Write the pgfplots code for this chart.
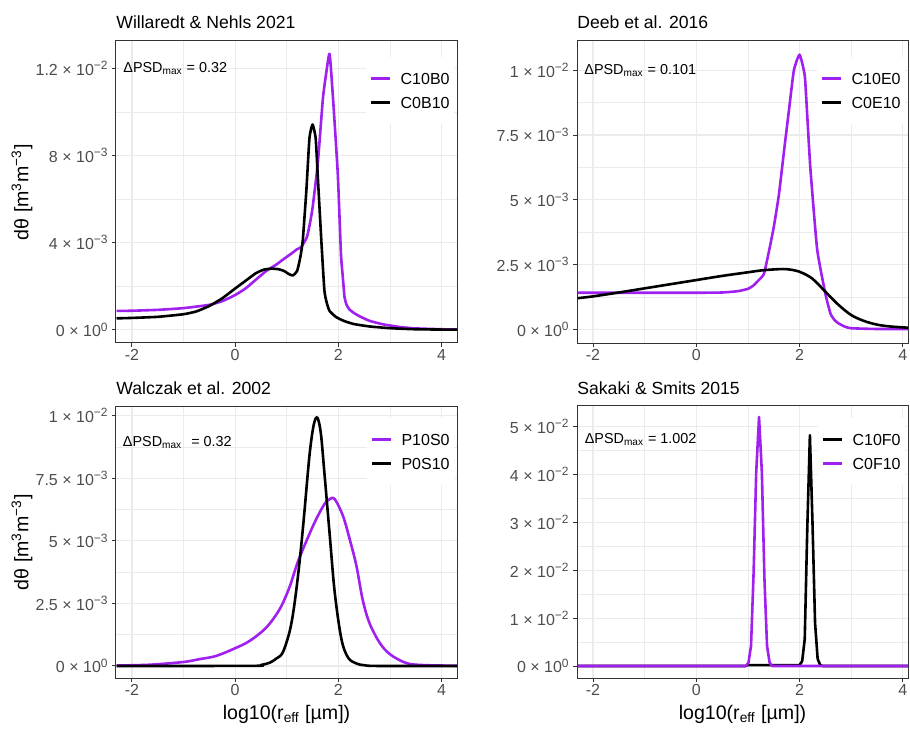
\documentclass[border=0pt]{standalone}
\usepackage{fontspec}
\setmainfont{Liberation Sans}
\usepackage{pgfplots}
\pgfplotsset{compat=1.18}
\definecolor{cpurple}{HTML}{A020F0}
\definecolor{gridgrey}{HTML}{EBEBEB}
\definecolor{framegrey}{HTML}{333333}
\definecolor{tickgrey}{HTML}{4D4D4D}

% 1 px of the 910x728 reference = 0.5pt
\pgfplotsset{
  ggpanel/.style={
    scale only axis,
    axis line style={framegrey, line width=0.5pt},
    tick style={framegrey, line width=0.5pt},
    major tick length=2pt, minor tick length=0pt,
    tick align=outside, xtick pos=bottom, ytick pos=left,
    grid=both,
    major grid style={gridgrey, line width=0.55pt},
    minor grid style={gridgrey, line width=0.3pt},
    xtick={-2,0,2,4}, xticklabels={-2,0,2,4}, minor xtick={-1,1,3},
    tick label style={font=\fontsize{8}{9}\selectfont, text=tickgrey},
    xticklabel style={inner sep=1pt},
    yticklabel style={inner sep=1.5pt},
    every axis title/.style={at={(axis description cs:0,1)}, anchor=base west,
      inner sep=0pt, font=\fontsize{8.8}{10}\selectfont, yshift=6pt},
    label style={font=\fontsize{9.8}{11}\selectfont},
    legend cell align=left,
    legend image code/.code={\draw[#1] (0pt,0pt) -- (9.5pt,0pt);},
    legend style={at={(rel axis cs:1,1)}, anchor=north east, xshift=-1.5pt, yshift=-7.75pt,
      draw=none, fill=white, inner xsep=2pt, inner ysep=7.75pt,
      font=\fontsize{8}{9.6}\selectfont,
      nodes={inner sep=0pt, text height=6pt, text depth=0pt},
      row sep=6pt, /tikz/every odd column/.append style={column sep=4.5pt}},
    every axis plot/.append style={line width=1.3pt, line join=round, mark=none},
  },
  soft/.style={smooth, tension=0.3},
  softer/.style={smooth, tension=0.55},
  ylab/.style={ylabel={dθ [m\textsuperscript{3}m\textsuperscript{−3}]},
    ylabel style={at={(axis description cs:-0.2757,0.5)}, anchor=center}},
  xlab/.style={xlabel={log10(r\textsubscript{eff} [µm])},
    xlabel style={at={(axis description cs:0.5,0)}, yshift=-18pt, anchor=center}},
}
\newcommand{\dpsd}[1]{ΔPSD\textsubscript{max} = #1}

\begin{document}
\begin{tikzpicture}
\path (0,0) rectangle (455pt,364pt);

% ---- Willaredt & Nehls 2021 (y in 1e-3)
\begin{axis}[ggpanel, ylab, at={(58pt,192.5pt)}, anchor=south west,
  width=170.5pt, height=151pt,
  xmin=-2.31, xmax=4.30, ymin=-0.6, ymax=13.25,
  ytick={0,4,8,12}, minor ytick={2,6,10},
  yticklabels={0 × 10\textsuperscript{0}, 4 × 10\textsuperscript{−3}, 8 × 10\textsuperscript{−3}, 1.2 × 10\textsuperscript{−2}},
  title={Willaredt \& Nehls 2021}]
\addplot[cpurple, soft] coordinates {
 (-2.3,0.87) (-2.0,0.88) (-1.5,0.92) (-1.0,1.00) (-0.5,1.15) (-0.25,1.32)
 (0.0,1.60) (0.2,1.90) (0.4,2.30) (0.6,2.70) (0.8,3.00) (0.9,3.18) (1.0,3.35)
 (1.1,3.52) (1.2,3.70) (1.28,3.80) (1.39,4.25) (1.45,4.9) (1.5,5.6) (1.6,7.6)
 (1.7,10.6) (1.76,11.7) (1.83,12.66) (1.9,10.5) (1.99,7.1) (2.05,3.5) (2.08,2.6)
 (2.12,1.5) (2.16,1.15) (2.21,0.95) (2.3,0.78) (2.4,0.64) (2.6,0.42) (2.86,0.26)
 (3.2,0.13) (3.5,0.07) (4.0,0.03) (4.3,0.02)};
\addlegendentry{C10B0}
\addplot[black, soft] coordinates {
 (-2.3,0.53) (-2.0,0.55) (-1.5,0.60) (-1.0,0.72) (-0.75,0.85) (-0.5,1.10)
 (-0.25,1.45) (0.0,1.90) (0.2,2.25) (0.4,2.60) (0.55,2.76) (0.7,2.81) (0.85,2.78)
 (0.95,2.70) (1.05,2.55) (1.12,2.50) (1.2,2.70) (1.26,3.3) (1.31,4.1) (1.38,6.4)
 (1.44,8.8) (1.5,9.42) (1.56,8.8) (1.6,7.1) (1.67,4.1) (1.73,1.8) (1.78,1.2)
 (1.83,0.87) (1.95,0.60) (2.1,0.42) (2.3,0.27) (2.6,0.16) (3.0,0.08) (3.5,0.03)
 (4.3,0.01)};
\addlegendentry{C0B10}
\node[anchor=base west, font=\fontsize{7.2}{8.6}\selectfont, inner sep=0pt,
  xshift=3.5pt, yshift=-15.8pt] at (rel axis cs:0,1) {\dpsd{0.32}};
\end{axis}

% ---- Deeb et al. 2016 (y in 1e-3)
\begin{axis}[ggpanel, at={(288.5pt,192.5pt)}, anchor=south west,
  width=165.5pt, height=151pt,
  xmin=-2.31, xmax=4.10, ymin=-0.53, ymax=11.13,
  ytick={0,2.5,5,7.5,10}, minor ytick={1.25,3.75,6.25,8.75},
  yticklabels={0 × 10\textsuperscript{0}, 2.5 × 10\textsuperscript{−3}, 5 × 10\textsuperscript{−3}, 7.5 × 10\textsuperscript{−3}, 1 × 10\textsuperscript{−2}},
  title={Deeb et al. 2016}]
\addplot[cpurple, soft] coordinates {
 (-2.3,1.41) (-1.0,1.41) (0.0,1.41) (0.5,1.42) (0.8,1.47) (1.0,1.56) (1.1,1.68)
 (1.2,1.88) (1.31,2.14) (1.41,3.04) (1.5,3.94) (1.6,5.2) (1.7,6.9) (1.8,8.55)
 (1.89,10.0) (2.0,10.6) (2.1,9.8) (2.15,8.2) (2.21,6.2) (2.34,3.1) (2.5,1.37)
 (2.6,0.6) (2.68,0.35) (2.76,0.22) (2.88,0.1) (3.0,0.04) (3.5,0.01) (4.1,0.01)};
\addlegendentry{C10E0}
\addplot[black, softer] coordinates {
 (-2.3,1.20) (-2.0,1.27) (-1.5,1.42) (-1.0,1.58) (-0.5,1.74) (0.0,1.90)
 (0.5,2.06) (1.0,2.20) (1.25,2.27) (1.5,2.31) (1.75,2.32) (2.0,2.22) (2.25,1.95)
 (2.5,1.45) (2.75,0.95) (3.0,0.55) (3.25,0.32) (3.5,0.18) (3.75,0.11) (4.1,0.06)};
\addlegendentry{C0E10}
\node[anchor=base west, font=\fontsize{7.2}{8.6}\selectfont, inner sep=0pt,
  xshift=3.5pt, yshift=-16.7pt] at (rel axis cs:0,1) {\dpsd{0.101}};
\end{axis}

% ---- Walczak et al. 2002 (y in 1e-3)
\begin{axis}[ggpanel, ylab, xlab, at={(58pt,25pt)}, anchor=south west,
  width=170.5pt, height=136pt,
  xmin=-2.31, xmax=4.30, ymin=-0.48, ymax=10.38,
  ytick={0,2.5,5,7.5,10}, minor ytick={1.25,3.75,6.25,8.75},
  yticklabels={0 × 10\textsuperscript{0}, 2.5 × 10\textsuperscript{−3}, 5 × 10\textsuperscript{−3}, 7.5 × 10\textsuperscript{−3}, 1 × 10\textsuperscript{−2}},
  title={Walczak et al. 2002}, title style={yshift=-0.3pt},
  legend style={yshift=2pt}]
\addplot[cpurple, softer] coordinates {
 (-2.3,0.02) (-1.66,0.05) (-1.0,0.16) (-0.7,0.27) (-0.37,0.40) (0.0,0.71)
 (0.28,1.00) (0.6,1.53) (0.86,2.26) (1.05,3.13) (1.21,4.13) (1.41,5.13)
 (1.57,5.86) (1.73,6.46) (1.83,6.66) (1.93,6.66) (2.09,5.99) (2.22,5.06)
 (2.35,4.00) (2.47,2.66) (2.6,1.73) (2.8,0.93) (3.0,0.47) (3.3,0.13) (3.6,0.04)
 (4.3,0.01)};
\addlegendentry{P10S0}
\addplot[black, softer] coordinates {
 (-2.3,0) (0.3,0.005) (0.5,0.04) (0.67,0.13) (0.8,0.3) (0.92,0.53) (1.05,1.33)
 (1.13,2.2) (1.21,3.46) (1.28,4.8) (1.34,6.1) (1.44,8.4) (1.52,9.6) (1.59,9.92)
 (1.66,9.3) (1.73,7.7) (1.83,5.3) (1.93,2.93) (2.06,1.07) (2.19,0.33) (2.35,0.1)
 (2.5,0.03) (2.8,0) (4.3,0)};
\addlegendentry{P0S10}
\node[anchor=base west, font=\fontsize{7.2}{8.6}\selectfont, inner sep=0pt,
  xshift=3.3pt, yshift=-20pt] at (rel axis cs:0,1) {ΔPSD\textsubscript{max}\hspace{2.5pt} = 0.32};
\end{axis}

% ---- Sakaki & Smits 2015 (y in 1e-2)
\begin{axis}[ggpanel, xlab, at={(288.5pt,25pt)}, anchor=south west,
  width=165.5pt, height=136pt,
  xmin=-2.31, xmax=4.10, ymin=-0.25, ymax=5.43,
  ytick={0,1,2,3,4,5}, minor ytick={0.5,1.5,2.5,3.5,4.5},
  yticklabels={0 × 10\textsuperscript{0}, 1 × 10\textsuperscript{−2}, 2 × 10\textsuperscript{−2}, 3 × 10\textsuperscript{−2}, 4 × 10\textsuperscript{−2}, 5 × 10\textsuperscript{−2}},
  title={Sakaki \& Smits 2015}, title style={yshift=-0.3pt},
  legend style={yshift=2pt}]
\addplot[black] coordinates {
 (-2.3,0) (0.95,0) (1.0,0.02) (2.0,0.02) (2.05,0.1) (2.1,0.56) (2.15,2.9)
 (2.2,4.82) (2.25,3.0) (2.3,0.9) (2.35,0.15) (2.4,0.02) (2.45,0) (4.1,0)};
\addlegendentry{C10F0}
\addplot[cpurple] coordinates {
 (-2.3,0) (0.96,0) (1.01,0.07) (1.06,0.42) (1.11,1.95) (1.16,4.04) (1.215,5.2)
 (1.27,4.04) (1.32,1.81) (1.37,0.42) (1.42,0.07) (1.47,0) (4.1,0)};
\addlegendentry{C0F10}
\node[anchor=base west, font=\fontsize{7.2}{8.6}\selectfont, inner sep=0pt,
  xshift=3.7pt, yshift=-18.8pt] at (rel axis cs:0,1) {\dpsd{1.002}};
\end{axis}
\end{tikzpicture}
\end{document}
